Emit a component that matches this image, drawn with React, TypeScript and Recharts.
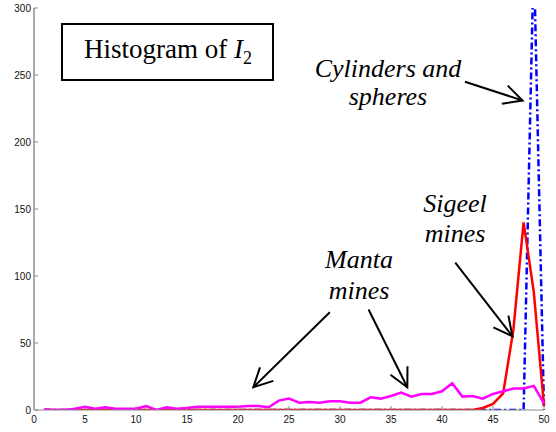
import { Line, LineChart, ReferenceLine, XAxis, YAxis } from 'recharts'

// histogram bins 1..50
const bins = [
  1, 2, 3, 4, 5, 6, 7, 8, 9, 10, 11, 12, 13, 14, 15, 16, 17, 18, 19, 20, 21, 22, 23, 24, 25,
  26, 27, 28, 29, 30, 31, 32, 33, 34, 35, 36, 37, 38, 39, 40, 41, 42, 43, 44, 45, 46, 47, 48, 49, 50,
]

const manta = [
  0.5, 0, 0, 1, 2.5, 1, 2, 1, 1, 1, 3, 0, 2, 1, 1.5, 2.5, 2.5, 2.5, 2.5, 2.5, 3, 3, 2, 7, 8.5,
  5.5, 6, 5.5, 6.5, 6.5, 5.5, 5.5, 9.5, 8.5, 10.5, 13, 10, 12, 12, 14, 20, 10, 10.5, 8.5, 12, 14, 16, 16, 18, 5,
]

const sigeel = [
  0, 0, 0, 0, 0, 0, 0, 0, 0, 0, 0, 0, 0, 0, 0, 0, 0, 0, 0, 0, 0, 0, 0, 0, 0,
  0, 0, 0, 0, 0, 0, 0, 0, 0, 0, 0, 0, 0, 0, 0, 0, 0, 0, 1.5, 4.5, 12.5, 60, 140, 88, 3,
]

const cylinders = [
  0, 0, 0, 0, 0, 0, 0, 0, 0, 0, 0, 0, 0, 0, 0, 0, 0, 0, 0, 0, 0, 0, 0, 0, 0,
  0, 0, 0, 0, 0, 0, 0, 0, 0, 0, 0, 0, 0, 0, 0, 0, 0, 0, 0, 0, 0, 0, 0, 340, 0,
]

const xTicks = [0, 5, 10, 15, 20, 25, 30, 35, 40, 45, 50]
const yTicks = [0, 50, 100, 150, 200, 250, 300]

// arrows, in data units: [fromX, fromY, toX, toY]
const arrows = [
  [42.25, 245, 47.9, 231],
  [41.3, 110, 46.9, 55],
  [29.0, 73, 21.5, 17],
  [32.8, 75, 36.6, 17],
]

const data = bins.map((bin, i) => ({
  bin,
  manta: manta[i],
  sigeel: sigeel[i],
  cylinders: cylinders[i],
}))

const tickFont = { fontFamily: 'Liberation Sans, Arial, sans-serif', fontSize: 10, fill: '#111' }

function Arrow(props: any) {
  const { x1, y1, x2, y2 } = props
  const ang = Math.atan2(y1 - y2, x1 - x2)
  const len = 21
  const spread = 0.47
  const w1x = x2 + len * Math.cos(ang + spread)
  const w1y = y2 + len * Math.sin(ang + spread)
  const w2x = x2 + len * Math.cos(ang - spread)
  const w2y = y2 + len * Math.sin(ang - spread)
  return (
    <g>
      <line x1={x1} y1={y1} x2={x2} y2={y2} stroke="#000" strokeWidth={2} />
      <polyline
        points={`${w1x},${w1y} ${x2},${y2} ${w2x},${w2y}`}
        fill="none"
        stroke="#000"
        strokeWidth={2}
      />
    </g>
  )
}

const serif = 'Liberation Serif, Times New Roman, serif'

export default function App() {
  return (
    <div style={{ position: 'relative', width: 556, height: 432, background: '#fff' }}>
      <style>{'body{margin:0}'}</style>
      <LineChart width={556} height={432} data={data} margin={{ top: 8, right: 12, bottom: 0, left: 0 }}>
        <XAxis
          dataKey="bin"
          type="number"
          domain={[0, 50]}
          ticks={xTicks}
          height={22}
          tickSize={-4}
          tickMargin={10}
          tick={tickFont}
          axisLine={{ stroke: '#888', strokeWidth: 1 }}
          tickLine={{ stroke: '#888' }}
        />
        <XAxis
          xAxisId="top"
          orientation="top"
          type="number"
          domain={[0, 50]}
          ticks={xTicks}
          height={0}
          tickSize={-4}
          tick={() => null}
          axisLine={{ stroke: '#666', strokeWidth: 1 }}
          tickLine={{ stroke: '#666' }}
        />
        <YAxis
          type="number"
          domain={[0, 300]}
          ticks={yTicks}
          allowDataOverflow
          width={34}
          tickSize={-4}
          tickMargin={7}
          tick={tickFont}
          axisLine={{ stroke: '#aaa', strokeWidth: 2 }}
          tickLine={{ stroke: '#888' }}
        />
        <YAxis
          yAxisId="right"
          orientation="right"
          type="number"
          domain={[0, 300]}
          ticks={yTicks}
          width={0}
          tickSize={-4}
          tick={() => null}
          axisLine={{ stroke: '#999', strokeWidth: 1.5 }}
          tickLine={{ stroke: '#888' }}
        />
        <Line
          dataKey="cylinders"
          type="linear"
          stroke="#0000ff"
          strokeWidth={2.5}
          strokeDasharray="7 3 2 3"
          dot={false}
          isAnimationActive={false}
        />
        <Line
          dataKey="sigeel"
          type="linear"
          stroke="#ff0000"
          strokeWidth={2.5}
          dot={false}
          isAnimationActive={false}
        />
        <Line
          dataKey="manta"
          type="linear"
          stroke="#ff00ff"
          strokeWidth={2.5}
          dot={false}
          isAnimationActive={false}
        />
        {arrows.map(([fx, fy, tx, ty], i) => (
          <ReferenceLine
            key={i}
            segment={[
              { x: fx, y: fy },
              { x: tx, y: ty },
            ]}
            ifOverflow="visible"
            shape={Arrow}
          />
        ))}
      </LineChart>
      <svg
        width={556}
        height={432}
        style={{ position: 'absolute', left: 0, top: 0, pointerEvents: 'none' }}
      >
        <rect x={62} y={24} width={211} height={56} fill="#fff" stroke="#000" strokeWidth={2} />
        <text x={84} y={58} fontFamily={serif} fontSize={27} fill="#000">
          Histogram of <tspan fontStyle="italic">I</tspan>
          <tspan fontSize={18} dy={6}>2</tspan>
        </text>
        <g fontFamily={serif} fontSize={26} fontStyle="italic" fill="#000" textAnchor="middle">
          <text x={388} y={77}>Cylinders and</text>
          <text x={388} y={105}>spheres</text>
          <text x={455} y={212}>Sigeel</text>
          <text x={455} y={242}>mines</text>
          <text x={359} y={268}>Manta</text>
          <text x={359} y={299}>mines</text>
        </g>
      </svg>
    </div>
  )
}
